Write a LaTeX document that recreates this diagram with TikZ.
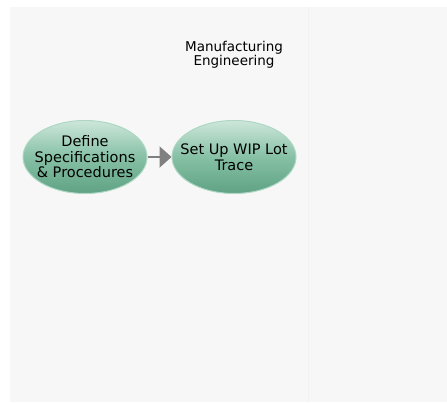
\documentclass[tikz,border=0pt]{standalone}
\usepackage{fontspec}
\setmainfont{DejaVu Sans}
\usetikzlibrary{shapes.geometric,arrows.meta}
\definecolor{panel}{HTML}{F7F7F7}
\definecolor{divider}{HTML}{F2F2F2}
\definecolor{eltop}{HTML}{CDE7DA}
\definecolor{elmid}{HTML}{86C0A5}
\definecolor{elbot}{HTML}{5FA283}
\definecolor{elborder}{HTML}{ADD7C4}
\definecolor{arrowgray}{HTML}{808080}
\tikzset{
  task/.style={ellipse, minimum width=124pt, minimum height=73pt,
    inner xsep=-12pt, inner ysep=0pt,
    draw=elborder, line width=1pt,
    top color=eltop, bottom color=elbot, middle color=elmid,
    font=\fontsize{14.5}{15.5}\selectfont, align=center, text=black},
  lanetitle/.style={font=\fontsize{13.5}{14}\selectfont, align=center, text=black},
  flow/.style={draw=arrowgray, line width=2.2pt, -{Triangle[length=12pt,width=21pt]}}
}
\begin{document}
\begin{tikzpicture}[x=1pt,y=1pt]
\useasboundingbox (0,0) rectangle (447,403);
\fill[white] (0,0) rectangle (447,403);
\fill[panel] (10,1) rectangle (447,396);
\draw[divider, line width=0.6pt] (308,1) -- (308,396);
\node[lanetitle] (lane) at (234,348) {Manufacturing\\Engineering};
\node[task] (define) at (85,246) {Define\\Specifications\\\& Procedures};
\node[task] (setup) at (234,246) {Set Up WIP Lot\\Trace};
\draw[flow] (define) -- (setup);
\end{tikzpicture}
\end{document}
